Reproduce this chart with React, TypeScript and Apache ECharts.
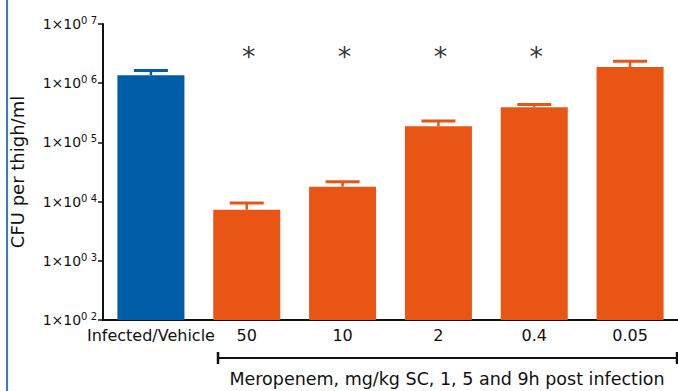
import React, { useEffect, useRef } from "react";
import * as echarts from "echarts";

const categories = ["Infected/Vehicle", "50", "10", "2", "0.4", "0.05"];
const meanValues = [1.36e6, 7.3e3, 1.79e4, 1.88e5, 3.94e5, 1.88e6];
const upperErrors = [1.64e6, 9.5e3, 2.17e4, 2.29e5, 4.37e5, 2.35e6];
const significant = [false, true, true, true, true, false];
const asteriskLevel = 3.6e6;
const yTicks = [1e2, 1e3, 1e4, 1e5, 1e6, 1e7];
const barColors = ["#005DA8", "#E85514", "#E85514", "#E85514", "#E85514", "#E85514"];
const yAxisTitle = "CFU per thigh/ml";
const bracketLabel = "Meropenem, mg/kg SC, 1, 5 and 9h post infection";

const FONT = "DejaVu Sans";

export default function App() {
  const ref = useRef<HTMLDivElement>(null);
  useEffect(() => {
    if (!ref.current) return;
    const chart = echarts.init(ref.current, null, { renderer: "svg" });
    const option: any = {
      animation: false,
      backgroundColor: "#ffffff",
      grid: { left: 103, right: -5, top: 24, bottom: 71, containLabel: false },
      xAxis: {
        type: "category",
        data: categories,
        axisLine: { lineStyle: { color: "#111", width: 2 } },
        axisTick: { alignWithLabel: true, length: 5, lineStyle: { color: "#111", width: 1.5 } },
        axisLabel: { color: "#111", fontFamily: FONT, fontSize: 16, margin: 7, interval: 0 },
      },
      yAxis: {
        type: "log",
        logBase: 10,
        min: yTicks[0],
        max: yTicks[yTicks.length - 1],
        splitLine: { show: false },
        axisLine: { show: true, lineStyle: { color: "#111", width: 2 } },
        axisTick: { show: true, length: 5, lineStyle: { color: "#111", width: 1.5 } },
        name: yAxisTitle,
        nameLocation: "middle",
        nameGap: 77,
        nameTextStyle: { color: "#111", fontFamily: FONT, fontSize: 18 },
        axisLabel: {
          color: "#111",
          margin: 6,
          formatter: (v: number) => {
            const e = Math.round(Math.log10(v));
            return "{b|1×10}{s|0 " + e + "}";
          },
          rich: {
            b: { fontFamily: FONT, fontSize: 14, color: "#111" },
            s: { fontFamily: FONT, fontSize: 10, color: "#111", padding: [0, 0, 7, 0] },
          },
        },
      },
      series: [
        {
          type: "bar",
          data: meanValues.map((v, i) => ({ value: v, itemStyle: { color: barColors[i] } })),
          barWidth: 67,
          clip: true,
          z: 2,
        },
        {
          type: "custom",
          z: 3,
          data: meanValues.map((v, i) => [i, v, upperErrors[i]]),
          renderItem: (params: any, api: any) => {
            const x = api.coord([api.value(0), api.value(1)]);
            const top = api.coord([api.value(0), api.value(2)]);
            const color = barColors[params.dataIndex];
            const hw = 17;
            return {
              type: "group",
              children: [
                { type: "line", shape: { x1: x[0], y1: x[1], x2: x[0], y2: top[1] }, style: { stroke: color, lineWidth: 2.5 } },
                { type: "line", shape: { x1: x[0] - hw, y1: top[1], x2: x[0] + hw, y2: top[1] }, style: { stroke: color, lineWidth: 3 } },
              ],
            };
          },
        },
        {
          type: "scatter",
          symbolSize: 0,
          z: 4,
          data: categories.map((c, i) => (significant[i] ? [i, asteriskLevel] : null)).filter((d) => d !== null),
          label: {
            show: true,
            position: "inside",
            formatter: "*",
            fontFamily: FONT,
            fontSize: 27,
            color: "#000",
            offset: [2, 6],
          },
        },
      ],
      graphic: [
        { type: "rect", shape: { x: 6, y: 0, width: 2, height: 391 }, style: { fill: "#3a7cc4" } },
        { type: "line", shape: { x1: 218, y1: 358, x2: 678, y2: 358 }, style: { stroke: "#111", lineWidth: 2 } },
        { type: "line", shape: { x1: 218, y1: 352, x2: 218, y2: 364 }, style: { stroke: "#111", lineWidth: 2.5 } },
        { type: "line", shape: { x1: 677, y1: 352, x2: 677, y2: 364 }, style: { stroke: "#111", lineWidth: 2.5 } },
        {
          type: "text",
          x: 447,
          y: 379,
          style: { text: bracketLabel, fontFamily: FONT, fontSize: 17.5, fill: "#111", align: "center", verticalAlign: "middle" },
        },
      ],
    };
    chart.setOption(option);
    return () => chart.dispose();
  }, []);
  return <div ref={ref} style={{ position: "fixed", left: 0, top: 0, width: 678, height: 391 }} />;
}
